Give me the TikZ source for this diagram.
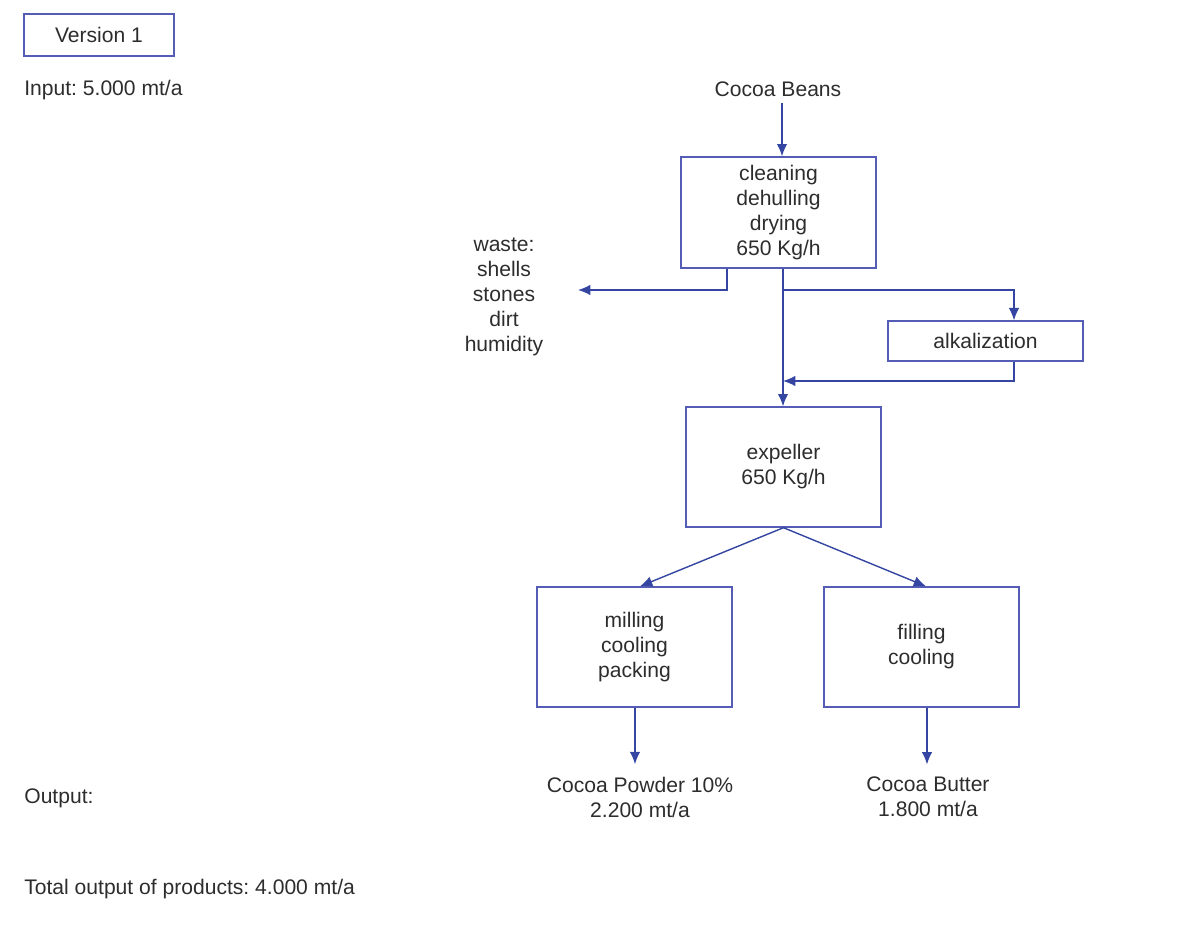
\documentclass[tikz,border=0pt]{standalone}
\usepackage{fontspec}
\setmainfont{Liberation Sans}
\usetikzlibrary{arrows.meta}

\definecolor{boxblue}{RGB}{84,92,182}
\definecolor{arrowblue}{RGB}{52,70,162}
\definecolor{txtgray}{RGB}{45,45,45}

\tikzset{
  procbox/.style={draw=boxblue, line width=0.8pt, align=center, text=txtgray,
    minimum width=3.9cm, minimum height=2.4cm, inner sep=0pt},
  label/.style={align=center, text=txtgray, inner sep=0pt},
  leftlabel/.style={anchor=west, text=txtgray, inner sep=0pt},
  arr/.style={draw=arrowblue, line width=0.8pt, -{Latex[length=7pt,width=6pt]}}
}

\begin{document}
\frenchspacing
\begin{tikzpicture}[x=0.02cm, y=-0.02cm, font=\fontsize{12}{14.2}\selectfont]
\useasboundingbox (0,0) rectangle (1200,935);

% Kopf und linke Spalte
\node[draw=boxblue, line width=0.8pt, text=txtgray, minimum width=3cm, minimum height=0.84cm] (version) at (99,35) {Version 1};
\node[leftlabel] (input) at (24,90) {Input: 5.000 mt/a};
\node[leftlabel] (output) at (24,798) {Output:};
\node[leftlabel] (total) at (24,889) {Total output of products: 4.000 mt/a};

% Prozessschritte
\node[label] (beans) at (778,89) {Cocoa Beans};
\node[procbox, minimum height=2.22cm] (clean) at (778.5,212.5) {cleaning\\dehulling\\drying\\650 Kg/h};
\node[label] (waste) at (504,297) {waste:\\shells\\stones\\dirt\\humidity};
\node[procbox, minimum height=0.8cm] (alkali) at (985.5,341) {alkalization};
\node[procbox] (expeller) at (783.5,467) {expeller\\650 Kg/h};
\node[procbox] (milling) at (634.5,647) {milling\\cooling\\packing};
\node[procbox] (filling) at (921.5,647) {filling\\cooling};
\node[label] (powder) at (640,797) {Cocoa Powder 10\%\\2.200 mt/a};
\node[label] (butter) at (928,797) {Cocoa Butter\\1.800 mt/a};

% Hilfspunkte
\coordinate (wasteend) at (578,290);
\coordinate (split) at (783,290);
\coordinate (rejoin) at (783,381);

% Pfeile
\draw[arr] (beans.south -| 782,0) ++(0,6) -- (clean.north -| 782,0);
\draw[arr] (clean.south -| 727,0) |- (wasteend);
\draw[arr] (clean.south -| split) -- (expeller.north -| split);
\draw[arr] (split) -| (alkali.north -| 1014,0);
\draw[arr] (alkali.south -| 1014,0) |- (rejoin);
\draw[arr] (expeller.south) -- (milling.north -| 640,0);
\draw[arr] (expeller.south) -- (filling.north -| 926,0);
\draw[arr, shorten >=7pt] (milling.south -| 635,0) -- (powder.north -| 635,0);
\draw[arr, shorten >=7pt] (filling.south -| 927,0) -- (butter.north -| 927,0);
\end{tikzpicture}
\end{document}
